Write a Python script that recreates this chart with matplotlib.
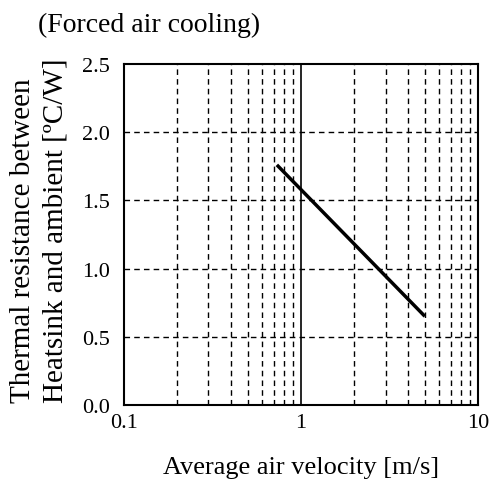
import matplotlib
matplotlib.use("Agg")
import matplotlib.pyplot as plt
from matplotlib.ticker import FixedLocator, FixedFormatter, NullFormatter

# Thermal resistance vs. air velocity (forced air cooling)
velocity = [0.73, 5.0]
resistance = [1.76, 0.65]

x_major = [0.1, 1, 10]
x_major_labels = ["0.1", "1", "10"]
y_ticks = [0.0, 0.5, 1.0, 1.5, 2.0, 2.5]

plt.rcParams["font.family"] = ["Liberation Serif", "DejaVu Serif"]

fig = plt.figure(figsize=(4.96, 4.81), dpi=100)
ax = fig.add_axes([0.25, 0.156, 0.714, 0.709])

ax.set_xscale("log")
ax.set_xlim(0.1, 10)
ax.set_ylim(0, 2.5)

# grid: dashed minor verticals, solid line at 1, dashed horizontals
minor = [m * d for d in (0.1, 1) for m in range(2, 10)]
for xv in minor:
    ax.axvline(xv, color="black", lw=1.0, ls=(0, (4, 3)), zorder=1)
ax.axvline(1, color="black", lw=1.2, zorder=1)
for yv in y_ticks[1:-1]:
    ax.axhline(yv, color="black", lw=1.0, ls=(0, (4, 3)), zorder=1)

ax.plot(velocity, resistance, color="black", lw=2.5, solid_capstyle="butt", zorder=3)

ax.xaxis.set_major_locator(FixedLocator(x_major))
ax.xaxis.set_major_formatter(FixedFormatter(x_major_labels))
ax.xaxis.set_minor_formatter(NullFormatter())
ax.set_yticks(y_ticks)
ax.set_yticklabels([f"{v:.1f}" for v in y_ticks])
ax.tick_params(axis="both", which="both", length=0, labelsize=16, colors="black")
ax.tick_params(axis="y", pad=10)
ax.tick_params(axis="x", pad=6)

for s in ax.spines.values():
    s.set_linewidth(1.5)
    s.set_color("black")

ax.set_xlabel("Average air velocity [m/s]", fontsize=19, labelpad=17)
ax.set_ylabel("Thermal resistance between\nHeatsink and ambient [ºC/W]", fontsize=21,
              labelpad=10, linespacing=1.3, multialignment="left")
ax.yaxis.label.set_y(0.515)

fig.text(0.077, 0.947, "(Forced air cooling)", fontsize=20, ha="left", va="center")

fig.savefig("out.png", dpi=100, facecolor="white")
